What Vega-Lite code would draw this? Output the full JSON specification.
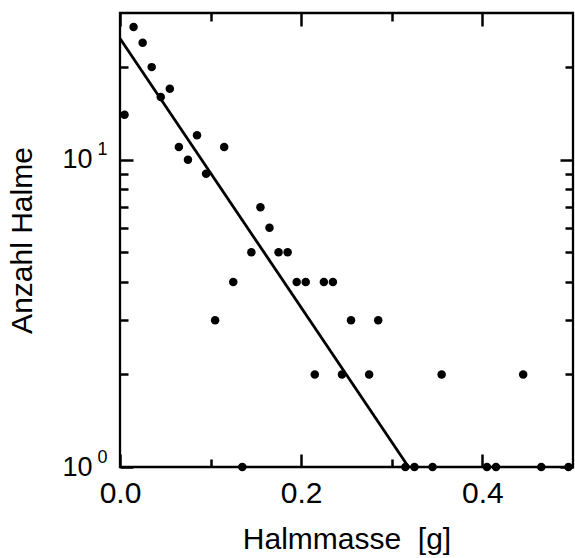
{
  "$schema": "https://vega.github.io/schema/vega-lite/v6.json",
  "autosize": "none",
  "width": 453,
  "height": 454,
  "padding": {"left": 120, "top": 13, "right": 2, "bottom": 91},
  "background": "white",
  "config": {
    "view": {"stroke": "black", "strokeWidth": 2.3},
    "font": "Liberation Sans",
    "axis": {
      "grid": false,
      "domain": false,
      "tickColor": "black",
      "tickWidth": 2.5,
      "labelColor": "black",
      "labelFont": "Liberation Sans",
      "titleFont": "Liberation Sans",
      "titleColor": "black",
      "titleFontWeight": "normal",
      "titleFontSize": 30,
      "labelFlush": false,
      "labelOverlap": false
    }
  },
  "datasets": {
    "pts": [
      {"masse": 0.005, "anzahl": 14},
      {"masse": 0.015, "anzahl": 27},
      {"masse": 0.025, "anzahl": 24},
      {"masse": 0.035, "anzahl": 20},
      {"masse": 0.045, "anzahl": 16},
      {"masse": 0.055, "anzahl": 17},
      {"masse": 0.065, "anzahl": 11},
      {"masse": 0.075, "anzahl": 10},
      {"masse": 0.085, "anzahl": 12},
      {"masse": 0.095, "anzahl": 9},
      {"masse": 0.105, "anzahl": 3},
      {"masse": 0.115, "anzahl": 11},
      {"masse": 0.125, "anzahl": 4},
      {"masse": 0.135, "anzahl": 1},
      {"masse": 0.145, "anzahl": 5},
      {"masse": 0.155, "anzahl": 7},
      {"masse": 0.165, "anzahl": 6},
      {"masse": 0.175, "anzahl": 5},
      {"masse": 0.185, "anzahl": 5},
      {"masse": 0.195, "anzahl": 4},
      {"masse": 0.205, "anzahl": 4},
      {"masse": 0.215, "anzahl": 2},
      {"masse": 0.225, "anzahl": 4},
      {"masse": 0.235, "anzahl": 4},
      {"masse": 0.245, "anzahl": 2},
      {"masse": 0.255, "anzahl": 3},
      {"masse": 0.275, "anzahl": 2},
      {"masse": 0.285, "anzahl": 3},
      {"masse": 0.315, "anzahl": 1},
      {"masse": 0.325, "anzahl": 1},
      {"masse": 0.345, "anzahl": 1},
      {"masse": 0.355, "anzahl": 2},
      {"masse": 0.405, "anzahl": 1},
      {"masse": 0.415, "anzahl": 1},
      {"masse": 0.445, "anzahl": 2},
      {"masse": 0.465, "anzahl": 1},
      {"masse": 0.495, "anzahl": 1}
    ],
    "fit": [
      {"masse": 0.0, "anzahl": 24.8},
      {"masse": 0.3185, "anzahl": 1.0}
    ]
  },
  "resolve": {"axis": {"x": "independent", "y": "independent"}},
  "layer": [
    {
      "data": {"name": "pts"},
      "mark": {"type": "point", "filled": true, "color": "black", "opacity": 1, "size": 72, "clip": false},
      "encoding": {
        "x": {"field": "masse", "type": "quantitative",
              "scale": {"domain": [0, 0.5], "nice": false, "zero": false},
              "axis": {"orient": "bottom", "values": [0, 0.2, 0.4], "format": ".1f",
                       "tickSize": -13, "labelFontSize": 30, "labelPadding": 24,
                       "title": "Halmmasse\u00a0 [g]", "titlePadding": 16}},
        "y": {"field": "anzahl", "type": "quantitative",
              "scale": {"type": "log", "domain": [1, 30], "nice": false},
              "axis": {"orient": "left", "values": [1, 10], "labelExpr": "'10'",
                       "tickSize": -13, "labelFontSize": 27, "labelPadding": 41,
                       "labelBaseline": "middle",
                       "title": "Anzahl Halme", "titlePadding": 24}}
      }
    },
    {
      "data": {"name": "fit"},
      "mark": {"type": "line", "color": "black", "strokeWidth": 2.8, "clip": false},
      "encoding": {
        "x": {"field": "masse", "type": "quantitative",
              "axis": {"orient": "bottom", "values": [0.1, 0.3], "labels": false,
                       "tickSize": -8, "title": null}},
        "y": {"field": "anzahl", "type": "quantitative",
              "axis": {"orient": "left", "values": [2, 3, 4, 5, 6, 7, 8, 9, 20], "labels": false,
                       "tickSize": -8, "title": null}}
      }
    },
    {
      "data": {"name": "pts"},
      "mark": {"type": "point", "filled": true, "opacity": 0, "size": 1},
      "encoding": {
        "x": {"field": "masse", "type": "quantitative",
              "axis": {"orient": "top", "values": [0, 0.2, 0.4], "labels": false,
                       "tickSize": -13, "title": null}},
        "y": {"field": "anzahl", "type": "quantitative",
              "axis": {"orient": "left", "values": [1, 10],
                       "labelExpr": "datum.value == 1 ? '0' : '1'",
                       "ticks": false, "labelFontSize": 18, "labelPadding": 13,
                       "labelBaseline": "middle", "labelOffset": -10, "title": null}}
      }
    },
    {
      "data": {"name": "pts"},
      "mark": {"type": "point", "filled": true, "opacity": 0, "size": 1},
      "encoding": {
        "x": {"field": "masse", "type": "quantitative",
              "axis": {"orient": "top", "values": [0.1, 0.3], "labels": false,
                       "tickSize": -8, "title": null}},
        "y": {"field": "anzahl", "type": "quantitative",
              "axis": {"orient": "right", "values": [1, 10], "labels": false,
                       "tickSize": -13, "title": null}}
      }
    },
    {
      "data": {"name": "pts"},
      "mark": {"type": "point", "filled": true, "opacity": 0, "size": 1},
      "encoding": {
        "x": {"field": "masse", "type": "quantitative", "axis": null},
        "y": {"field": "anzahl", "type": "quantitative",
              "axis": {"orient": "right", "values": [2, 3, 4, 5, 6, 7, 8, 9, 20], "labels": false,
                       "tickSize": -8, "title": null}}
      }
    }
  ]
}
